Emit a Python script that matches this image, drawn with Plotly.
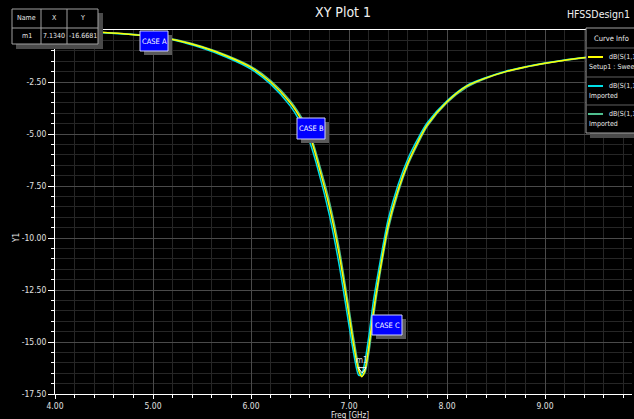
import plotly.graph_objects as go

freq = [4.0, 4.25, 4.5, 4.75, 5.0, 5.25, 5.5, 5.75, 6.0, 6.2, 6.4, 6.5, 6.6, 6.7, 6.8, 6.9,
        7.0, 7.05, 7.1, 7.13, 7.16, 7.2, 7.25, 7.3, 7.4, 7.5, 7.6, 7.7, 7.8, 8.0, 8.2, 8.4,
        8.6, 8.8, 9.0, 9.2, 9.4, 9.6, 9.8, 10.0]
s11_setup1 = [-0.02, -0.06, -0.12, -0.2, -0.31, -0.5, -0.82, -1.25, -1.8, -2.5, -3.5, -4.2,
              -5.1, -6.7, -8.5, -10.8, -13.7, -15.2, -16.4, -16.67, -16.4, -15.3, -13.5, -12.0,
              -9.4, -7.7, -6.4, -5.4, -4.55, -3.45, -2.7, -2.3, -2.0, -1.78, -1.6, -1.45,
              -1.33, -1.22, -1.13, -1.05]
s11_imported1 = [-0.02, -0.06, -0.13, -0.21, -0.33, -0.53, -0.87, -1.31, -1.88, -2.6, -3.65, -4.4,
                 -5.4, -7.0, -8.9, -11.3, -14.2, -15.6, -16.6, -16.55, -16.0, -14.8, -13.0, -11.6,
                 -9.1, -7.45, -6.2, -5.25, -4.45, -3.4, -2.67, -2.28, -1.98, -1.77, -1.59, -1.44,
                 -1.32, -1.21, -1.12, -1.04]
s11_imported2 = [-0.02, -0.06, -0.12, -0.19, -0.3, -0.48, -0.79, -1.21, -1.75, -2.43, -3.4, -4.08,
                 -4.95, -6.5, -8.25, -10.5, -13.4, -14.9, -16.2, -16.62, -16.5, -15.6, -13.8, -12.2,
                 -9.6, -7.85, -6.5, -5.5, -4.62, -3.5, -2.76, -2.32, -2.01, -1.79, -1.61, -1.46,
                 -1.34, -1.23, -1.14, -1.06]
marker_name = "m1"
marker_x = 7.1340
marker_y = -16.6681
x_ticks = [4, 5, 6, 7, 8, 9]
y_ticks = [-17.5, -15.0, -12.5, -10.0, -7.5, -5.0, -2.5]
case_labels = ["CASE A", "CASE B", "CASE C"]

FONT = "Liberation Sans Narrow, Arial Narrow, DejaVu Sans Condensed, sans-serif"
W, H = 634, 419
L, R, T, B = 55, 632, 30, 394


def px(x):
    return (x - L) / (R - L)


def py(y):
    return (B - y) / (B - T)


fig = go.Figure()
fig.add_trace(go.Scatter(x=freq, y=s11_imported2, mode="lines",
                         line=dict(color="#4fbf8f", width=1.5, shape="spline", smoothing=0.8)))
fig.add_trace(go.Scatter(x=freq, y=s11_imported1, mode="lines",
                         line=dict(color="#00e0e8", width=1.5, shape="spline", smoothing=0.8)))
fig.add_trace(go.Scatter(x=freq, y=s11_setup1, mode="lines",
                         line=dict(color="#ffff00", width=1.5, shape="spline", smoothing=0.8)))
fig.add_trace(go.Scatter(x=[marker_x], y=[marker_y + 0.35], mode="markers",
                         marker=dict(symbol="triangle-down-open", size=7, color="white",
                                     line=dict(width=1, color="white"))))

shapes = []
annotations = []


def rect(x0, y0, x1, y1, fill, line="rgba(0,0,0,0)", lw=1):
    shapes.append(dict(type="rect", xref="paper", yref="paper", x0=px(x0), x1=px(x1),
                       y0=py(y1), y1=py(y0), fillcolor=fill, line=dict(color=line, width=lw),
                       layer="above"))


def hline(x0, x1, y, color, lw=1):
    shapes.append(dict(type="line", xref="paper", yref="paper", x0=px(x0), x1=px(x1),
                       y0=py(y), y1=py(y), line=dict(color=color, width=lw), layer="above"))


def vline(x, y0, y1, color, lw=1):
    shapes.append(dict(type="line", xref="paper", yref="paper", x0=px(x), x1=px(x),
                       y0=py(y0), y1=py(y1), line=dict(color=color, width=lw), layer="above"))


def text(x, y, s, size=9, color="#e8e8e8", xanchor="center", angle=0):
    annotations.append(dict(xref="paper", yref="paper", x=px(x), y=py(y), text=s,
                            showarrow=False, xanchor=xanchor, yanchor="middle", textangle=angle,
                            font=dict(family=FONT, size=size, color=color)))


# CASE boxes
case_boxes = [(140, 31, 168, 51), (297, 118, 325, 139), (372, 315, 402, 335)]
for (x0, y0, x1, y1), lab in zip(case_boxes, case_labels):
    rect(x0 + 4, y0 + 4, x1 + 4, y1 + 4, "#5a5a5a")
    rect(x0, y0, x1, y1, "#0000ff", "#d0d0ff", 1)
    text((x0 + x1) / 2, (y0 + y1) / 2, lab, size=7.5, color="white")

# marker label
text(362, 360, marker_name, size=8, color="#dddddd")

# marker table
rect(16, 13, 103, 49, "#4a4a4a")
rect(12, 9, 98, 44, "#000000", "#a0a0a0", 1)
hline(12, 98, 28, "#a0a0a0")
vline(41, 9, 44, "#a0a0a0")
vline(67, 9, 44, "#a0a0a0")
text(26.5, 18, "Name", size=7)
text(54, 18, "X", size=7)
text(82.5, 18, "Y", size=7)
text(26.5, 36, marker_name, size=7)
text(54, 36, f"{marker_x:.4f}", size=7)
text(82.5, 36, f"{marker_y:.4f}", size=7)

# curve info legend
rect(590, 32, 645, 138, "#4a4a4a")
rect(586, 28, 645, 133, "#000000", "#a0a0a0", 1)
text(611, 38, "Curve Info", size=7.5)
hline(586, 645, 48, "#606060")
hline(588, 603, 57, "#ffff00", 2)
text(607, 57, "dB(S(1,1", size=7, xanchor="left")
text(587, 67, "Setup1 : Sweep", size=7, xanchor="left")
hline(586, 645, 77, "#606060")
hline(588, 603, 86, "#00e0e8", 2)
text(607, 86, "dB(S(1,1", size=7, xanchor="left")
text(587, 96, "Imported", size=7, xanchor="left")
hline(586, 645, 105, "#606060")
hline(588, 603, 114, "#4fbf8f", 2)
text(607, 114, "dB(S(1,1", size=7, xanchor="left")
text(587, 124, "Imported", size=7, xanchor="left")

# titles
text(343, 12, "XY Plot 1", size=14, color="#f0f0f0")
text(632, 14, "HFSSDesign1", size=10.5, color="#f0f0f0", xanchor="right")
text(16, 238, "Y1", size=8, angle=-90)
text(350, 415, "Freq [GHz]", size=8)

fig.update_layout(
    width=W, height=H,
    margin=dict(l=L, r=W - R, t=T, b=H - B),
    paper_bgcolor="black", plot_bgcolor="black",
    showlegend=False,
    shapes=shapes, annotations=annotations,
    font=dict(family=FONT, color="#e0e0e0", size=9),
)
fig.update_xaxes(range=[4, (R - L) / 98.0 + 4], tickvals=x_ticks,
                 ticktext=[f"{v:.2f}" for v in x_ticks],
                 showline=True, linecolor="white", linewidth=1, mirror=True,
                 ticks="outside", ticklen=4, tickcolor="white",
                 gridcolor="#4a4a4a", gridwidth=1, zeroline=False,
                 tickfont=dict(family=FONT, size=8.5, color="#e0e0e0"),
                 minor=dict(dtick=0.2, showgrid=True, gridcolor="#262626",
                            ticks="outside", ticklen=3, tickcolor="white"))
fig.update_yaxes(range=[-17.5, 0], tickvals=y_ticks,
                 ticktext=[f"{v:.2f}" for v in y_ticks],
                 showline=True, linecolor="white", linewidth=1,
                 ticks="outside", ticklen=6, tickcolor="white",
                 gridcolor="#4a4a4a", gridwidth=1, zeroline=False,
                 tickfont=dict(family=FONT, size=8.5, color="#e0e0e0"),
                 minor=dict(dtick=0.5, showgrid=True, gridcolor="#262626",
                            ticks="outside", ticklen=3, tickcolor="white"))

fig.write_html("out.html", config={"displayModeBar": False},
               post_script="document.body.style.margin='0';document.body.style.background='black';")
